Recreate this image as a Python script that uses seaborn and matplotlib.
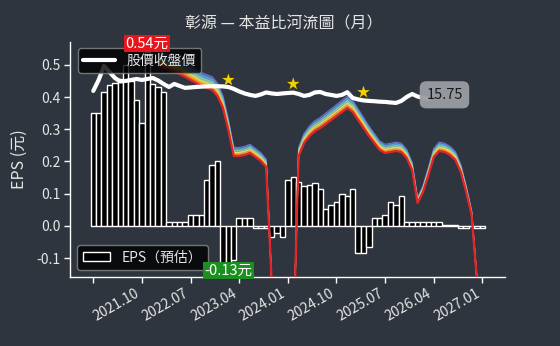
import numpy as np
import pandas as pd
import matplotlib
matplotlib.use("Agg")
import matplotlib.pyplot as plt
import seaborn as sns
from matplotlib.patches import Patch
from matplotlib.lines import Line2D

# ---------------- data ----------------
# monthly EPS, 2021.01 .. 2027.01 (73 months)
eps = [0.35, 0.35, 0.417, 0.438, 0.445, 0.455, 0.50, 0.45, 0.39, 0.32,
       0.54, 0.44, 0.43, 0.417,
       0.013, 0.013, 0.013, 0.013,
       0.034, 0.034, 0.034,
       0.143, 0.19, 0.20,
       -0.115, -0.13, -0.105,
       0.024, 0.024, 0.024,
       -0.007, -0.007, -0.007,
       -0.035, -0.021, -0.035,
       0.141, 0.151, 0.135, 0.124, 0.128, 0.133, 0.114, 0.052, 0.065, 0.075, 0.10,
       0.093, 0.114,
       -0.085, -0.085, -0.066,
       0.024, 0.024, 0.034, 0.073, 0.065, 0.093,
       0.013, 0.013, 0.013, 0.013, 0.013, 0.013, 0.013,
       0.002, 0.002, 0.002,
       -0.007, -0.007, 0.0, -0.007, -0.007]

# monthly close price from 2021.01 (63 months)
price = [16.46, 17.43, 18.67, 18.14, 17.61, 17.30, 17.35, 17.43, 17.52, 17.43,
         17.52, 17.61, 17.39, 17.08, 16.81, 17.08, 16.90, 16.73, 16.77, 16.81,
         16.84, 16.86, 16.88, 16.88, 16.86, 16.81, 16.64, 16.42, 16.24, 16.11,
         16.02, 16.15, 16.33, 16.24, 16.19, 16.24, 16.28, 16.31, 16.19, 16.02,
         16.11, 16.33, 16.37, 16.19, 16.11, 16.02, 16.11, 16.35, 15.84, 15.71,
         15.62, 15.58, 15.55, 15.51, 15.49, 15.44, 15.40, 15.58, 15.93, 16.19,
         15.97, 15.84, 15.75]

# trailing EPS used for the PE river, from 2022.01 (month index 12)
river_start = 12
river_eps = [1.867, 1.850, 1.832, 1.814, 1.796, 1.770, 1.743, 1.717, 1.690, 1.673,
             1.655, 1.602, 1.496, 1.301, 1.071, 1.071, 1.080, 1.097, 1.062, 1.027,
             0.973, -0.027, -0.30, -0.50, -0.60, -0.60, 1.071, 1.186, 1.248, 1.292,
             1.319, 1.354, 1.389, 1.425, 1.460, 1.496, 1.460, 1.389, 1.319, 1.248,
             1.186, 1.124, 1.097, 1.106, 1.115, 1.106, 1.053, 0.947, 0.655, 0.752,
             0.903, 1.062, 1.115, 1.106, 1.080, 1.035, 0.929, 0.752, 0.549, -0.03,
             -0.30]
pe_bands = [10.0, 10.14, 10.28, 10.42, 10.56, 10.70]
river_colors = ["#e3242b", "#f38b2c", "#f7d64b", "#8fd0a4", "#5aa9d9", "#6670c4"]

star_months = [25, 37, 50]
star_prices = [17.43, 17.08, 16.35]

tick_pos = [0, 9, 18, 27, 36, 45, 54, 63, 72]
tick_labels = ["", "2021.10", "2022.07", "2023.04", "2024.01", "2024.10",
               "2025.07", "2026.04", "2027.01"]

BG = "#2f353e"
FG = "#e6e6e6"

sns.set_theme(style="dark", rc={"axes.facecolor": BG, "figure.facecolor": BG,
                                "axes.edgecolor": "white", "text.color": FG,
                                "xtick.color": "white", "ytick.color": "white",
                                "axes.labelcolor": FG, "axes.grid": False})
plt.rcParams["font.family"] = ["Noto Sans CJK TC", "DejaVu Sans"]
plt.rcParams["axes.unicode_minus"] = False

fig = plt.figure(figsize=(5.6, 3.46), dpi=100)
ax = fig.add_axes([0.125, 0.1994, 0.777, 0.6792])
ax.set_facecolor(BG)

df_eps = pd.DataFrame({"m": np.arange(len(eps)), "eps": eps})
sns.barplot(data=df_eps, x="m", y="eps", native_scale=True, color="black",
            edgecolor="white", linewidth=1.0, width=1.0, saturation=1,
            errorbar=None, ax=ax)

ax.set_xlim(-4.3, 76.2)
ax.set_ylim(-0.159, 0.571)
ax.set_yticks([-0.1, 0.0, 0.1, 0.2, 0.3, 0.4, 0.5])
ax.set_yticklabels(["-0.1", "0.0", "0.1", "0.2", "0.3", "0.4", "0.5"], fontsize=10, color=FG)
ax.set_xticks(tick_pos)
ax.set_xticklabels(tick_labels, rotation=30, ha="right", fontsize=10, color=FG)
ax.tick_params(axis="both", direction="out", length=4, width=1, colors="white",
               labelcolor=FG, bottom=True, left=True, pad=3)
for s in ["top", "right"]:
    ax.spines[s].set_visible(False)
for s in ["left", "bottom"]:
    ax.spines[s].set_color("white")
    ax.spines[s].set_linewidth(1)
ax.set_xlabel("")
ax.set_ylabel("EPS (元)", fontsize=11.5, color=FG, labelpad=6)

# ---------------- price axis ----------------
ax2 = ax.twinx()
ax2.set_ylim(0, 20.79)
ax2.set_xlim(-4.3, 76.2)
rx = np.arange(river_start, river_start + len(river_eps))
rv = np.array(river_eps)
lines = [pe * rv for pe in pe_bands]
for k in range(len(lines) - 1):
    ax2.fill_between(rx, lines[k], lines[k + 1], color=river_colors[k + 1],
                     alpha=0.9, linewidth=0)
for k in range(len(lines) - 1, -1, -1):
    sns.lineplot(x=rx, y=lines[k], color=river_colors[k],
                 linewidth=1.6 if k == 0 else 0.9, ax=ax2, legend=False)

df_p = pd.DataFrame({"m": np.arange(len(price)), "p": price})
sns.lineplot(data=df_p, x="m", y="p", color="white", linewidth=3, ax=ax2,
             legend=False, solid_joinstyle="round")
sns.scatterplot(x=star_months, y=star_prices, marker="*", s=90, color="#f5d000",
                edgecolor="none", ax=ax2, legend=False, zorder=5)

ax2.set_yticks([])
ax2.set_ylabel("")
for s in ax2.spines.values():
    s.set_visible(False)

# annotations
ax2.annotate("15.75", xy=(len(price) - 1, price[-1]), xytext=(-1.5, 3),
             textcoords="offset points", ha="left", va="center", fontsize=10.5,
             color="#1a1a1a",
             bbox=dict(boxstyle="round,pad=0.45", fc="#9a9ea4", ec="none", alpha=0.95))
imax = int(np.argmax(eps))
imin = int(np.argmin(eps))
ax2.annotate(f"{eps[imax]:.2f}元", xy=(imax, eps[imax]), xycoords=ax.transData,
             xytext=(0, 1), textcoords="offset points", ha="center", va="bottom",
             fontsize=10.5, color="white", zorder=10, annotation_clip=False,
             bbox=dict(boxstyle="square,pad=0.1", fc="#e8141c", ec="none"))
ax2.annotate(f"{eps[imin]:.2f}元", xy=(imin, eps[imin]), xycoords=ax.transData,
             xytext=(0, -2), textcoords="offset points", ha="center", va="center",
             fontsize=10.5, color="white", zorder=10, annotation_clip=False,
             bbox=dict(boxstyle="square,pad=0.1", fc="#1b8f1f", ec="none"))

# legends
leg1 = ax2.legend(handles=[Line2D([0], [0], color="white", lw=3)], labels=["股價收盤價"],
                  loc="upper left", bbox_to_anchor=(0.018, 0.975), borderaxespad=0,
                  fontsize=10, handlelength=2.3, facecolor="black", edgecolor="#8a8a8a",
                  framealpha=0.8, labelcolor=FG, fancybox=True)
leg2 = ax.legend(handles=[Patch(facecolor="black", edgecolor="white", lw=1)],
                 labels=["EPS（預估）"], loc="lower left", bbox_to_anchor=(0.016, 0.03),
                 borderaxespad=0, fontsize=10, handlelength=2.0, facecolor="black",
                 edgecolor="#8a8a8a", framealpha=0.8, labelcolor=FG, fancybox=True)

fig.text(0.507, 1 - 24 / 346, "彰源 — 本益比河流圖（月）", ha="center", va="center",
         fontsize=11.5, color=FG, fontweight="light")

fig.savefig("out.png", dpi=100, facecolor=BG)
